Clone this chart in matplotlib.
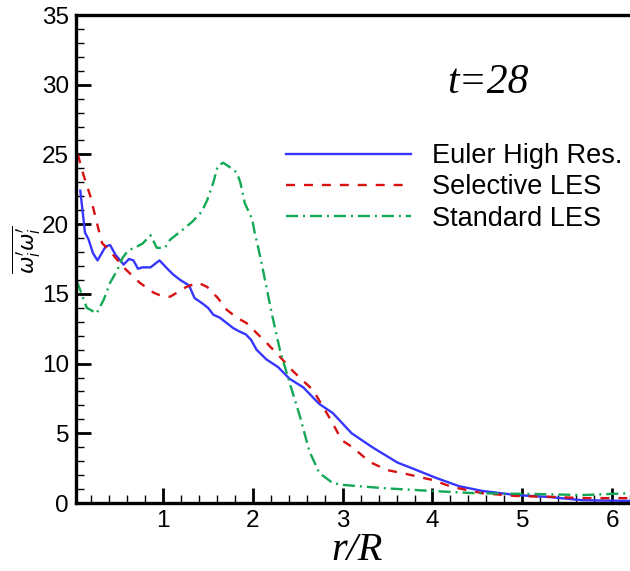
import numpy as np
import matplotlib
matplotlib.use("Agg")
import matplotlib.pyplot as plt
from matplotlib.ticker import MultipleLocator

# Euler High Res.
x_euler = [0.078, 0.13, 0.17, 0.22, 0.27, 0.36, 0.41, 0.47, 0.56, 0.62, 0.67, 0.72, 0.77,
           0.86, 0.96, 1.04, 1.11, 1.19, 1.29, 1.35, 1.43, 1.50, 1.56, 1.63, 1.71, 1.78,
           1.85, 1.92, 1.98, 2.04, 2.15, 2.28, 2.41, 2.56, 2.74, 2.89, 3.10, 3.33, 3.61,
           3.82, 4.04, 4.30, 4.56, 4.93, 5.30, 5.67, 6.19]
y_euler = [22.4, 19.4, 18.9, 17.9, 17.4, 18.4, 18.5, 17.8, 17.1, 17.5, 17.4, 16.8, 16.9,
           16.9, 17.4, 16.85, 16.4, 16.0, 15.6, 14.7, 14.35, 14.0, 13.5, 13.3, 12.9, 12.55,
           12.3, 12.1, 11.7, 11.0, 10.3, 9.75, 8.9, 8.3, 7.1, 6.45, 5.0, 4.0, 2.9,
           2.37, 1.8, 1.2, 0.86, 0.57, 0.43, 0.2, 0.15]

# Selective LES
x_sel = [0.05, 0.11, 0.19, 0.27, 0.32, 0.43, 0.56, 0.74, 0.89, 1.00, 1.08, 1.26, 1.39,
         1.49, 1.61, 1.71, 1.82, 1.93, 2.04, 2.15, 2.30, 2.44, 2.52, 2.67, 2.80, 2.89,
         2.99, 3.11, 3.30, 3.49, 3.71, 4.00, 4.22, 4.56, 4.93, 5.30, 5.67, 6.19]
y_sel = [25.0, 23.6, 22.0, 19.9, 18.65, 17.9, 16.9, 15.8, 15.1, 14.8, 14.8, 15.5, 15.8,
         15.5, 14.7, 13.85, 13.3, 12.9, 12.2, 11.5, 10.5, 9.5, 9.0, 8.1, 6.7, 5.7,
         4.5, 4.0, 2.95, 2.37, 2.08, 1.65, 1.15, 0.7, 0.5, 0.45, 0.35, 0.35]

# Standard LES
x_std = [0.04, 0.11, 0.15, 0.26, 0.34, 0.41, 0.49, 0.55, 0.61, 0.71, 0.77, 0.86, 0.93,
         1.02, 1.08, 1.19, 1.33, 1.43, 1.49, 1.56, 1.61, 1.67, 1.74, 1.82, 1.86, 1.91,
         1.99, 2.02, 2.06, 2.10, 2.21, 2.30, 2.41, 2.52, 2.63, 2.74, 2.89, 3.00, 3.44,
         4.00, 4.49, 5.11, 5.67, 6.19]
y_std = [15.9, 14.7, 14.0, 13.6, 14.6, 15.8, 16.7, 17.6, 18.1, 18.4, 18.6, 19.2, 18.3,
         18.3, 18.9, 19.45, 20.2, 20.9, 21.7, 23.0, 24.2, 24.4, 24.1, 23.7, 23.0, 21.5,
         20.4, 19.4, 18.3, 17.1, 13.6, 11.0, 8.6, 6.3, 3.7, 2.15, 1.43, 1.3, 1.07,
         0.86, 0.7, 0.65, 0.57, 0.7]

fig = plt.figure(figsize=(6.3, 5.71), dpi=100)
ax = fig.add_axes([76 / 630, 68 / 571, 554 / 630, 488 / 571])

ax.plot(x_euler, y_euler, color="#3636ff", lw=1.7, label="Euler High Res.")
ax.plot(x_sel, y_sel, color="#d81010", lw=1.7, dashes=(3.8, 3.8), label="Selective LES")
ax.plot(x_std, y_std, color="#12a855", lw=1.7, dashes=(5.1, 2.1, 0.85, 2.1), label="Standard LES")

ax.set_xlim(0.03, 6.2)
ax.set_ylim(0, 35)
ax.xaxis.set_major_locator(MultipleLocator(1))
ax.xaxis.set_minor_locator(MultipleLocator(0.2))
ax.yaxis.set_major_locator(MultipleLocator(5))
ax.yaxis.set_minor_locator(MultipleLocator(1))
ax.set_xticks([1, 2, 3, 4, 5, 6])
ax.tick_params(which="major", direction="in", length=11, width=2, labelsize=17.5,
               pad=5, top=False, right=False)
ax.tick_params(which="minor", direction="in", length=6, width=1, top=False, right=False)
for lab in ax.get_xticklabels() + ax.get_yticklabels():
    lab.set_family("Liberation Sans")

for side in ["left", "bottom", "top"]:
    ax.spines[side].set_linewidth(2.4)
ax.spines["right"].set_visible(False)

ax.set_xlabel("r/R", fontsize=29, family="Liberation Serif", style="italic")
ax.xaxis.set_label_coords((357 - 76) / 554, (503 - 550) / 488)
ax.xaxis.label.set_va("center")
ax.set_ylabel(r"$\overline{\omega_i^{\prime}\omega_i^{\prime}}$", fontsize=15)
ax.yaxis.set_label_coords((27 - 76) / 554, (503 - 250) / 488)
ax.yaxis.label.set_va("center")

fig.text(488 / 630, 1 - 83 / 571, "t=28", fontsize=30, family="Liberation Serif",
         style="italic", ha="center", va="center")

leg = ax.legend(loc="upper left", bbox_to_anchor=(286 / 630, 1 - 143 / 571),
                bbox_transform=fig.transFigure, frameon=False,
                handlelength=4.6, handletextpad=0.78, labelspacing=0.2,
                borderpad=0, borderaxespad=0, prop={"family": "Liberation Sans", "size": 19.5})

fig.savefig("out.png", dpi=100)
